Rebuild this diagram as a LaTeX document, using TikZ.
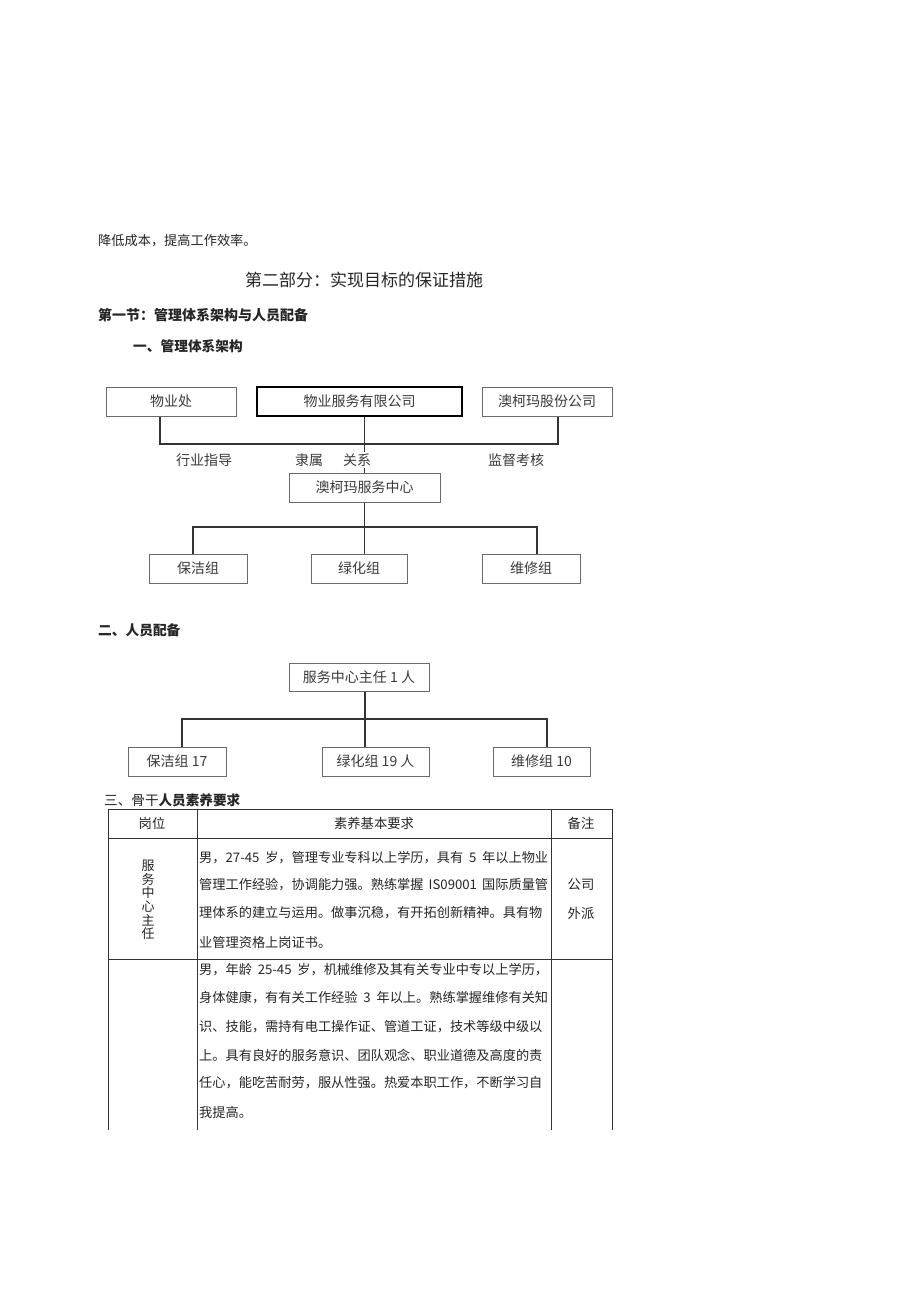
\documentclass[tikz,border=0pt]{standalone}
\usepackage{fontspec}
\setmainfont{Noto Sans CJK SC}
\XeTeXlinebreaklocale "zh"
\XeTeXlinebreakskip=0pt plus 2pt minus 1.5pt
\newcommand\fs[1]{\fontsize{#1}{#1}\selectfont}
\newcommand\rowline[1]{\makebox[349pt][s]{#1}}
\definecolor{boxgray}{HTML}{6A6A6A}
\definecolor{linegray}{HTML}{333333}
\definecolor{txt}{HTML}{262626}
\definecolor{boxtxt}{HTML}{3A3A3A}
\begin{document}
\begin{tikzpicture}[x=1pt,y=-1pt,
  every node/.style={text=txt},
  box/.style={draw=boxgray, line width=1pt, inner sep=0pt, minimum height=29pt, font=\fs{14}, text=boxtxt},
  conn/.style={draw=linegray, line width=1.3pt},
  lbl/.style={inner sep=0pt, font=\fs{14}, text=boxtxt},
  para/.style={inner sep=0pt, anchor=west, font=\fs{13.2}},
  head/.style={inner sep=0pt, anchor=west, font=\fs{14}\bfseries},
  tline/.style={draw=linegray, line width=1pt}]
\useasboundingbox[fill=white] (0,0) rectangle (920,1301);

% heading texts
\node[para] (intro) at (98,241) {降低成本，提高工作效率。};
\node[inner sep=0pt, font=\fs{17}] (title) at (364,280) {第二部分：实现目标的保证措施};
\node[head] (sec1) at (98,315) {第一节：管理体系架构与人员配备};
\node[head, font=\fs{13.7}\bfseries] (sub1) at (133,346) {一、管理体系架构};

% chart 1
\node[box, minimum width=130pt] (wyc) at (171,401.5) {物业处};
\node[box, minimum width=205pt, draw=black, line width=1.5pt] (wyfw) at (359.5,401.5) {物业服务有限公司};
\node[box, minimum width=130pt] (akmgf) at (547,401.5) {澳柯玛股份公司};
\node[box, minimum width=151pt] (fwzx) at (364.5,487.5) {澳柯玛服务中心};
\node[box, minimum width=98pt] (bjz) at (198,568.5) {保洁组};
\node[box, minimum width=96pt] (lhz) at (359,568.5) {绿化组};
\node[box, minimum width=98pt] (wxz) at (531,568.5) {维修组};

\coordinate (bus1) at (364,444);
\draw[conn] ([xshift=-11pt]wyc.south) |- (bus1) -| ([xshift=11pt]akmgf.south);
\draw[conn] (fwzx.north) -- (fwzx.north |- wyfw.south);
\coordinate (bus2) at (364,527);
\draw[conn] (fwzx.south) -- (fwzx.south |- lhz.north);
\draw[conn] ([xshift=-5pt]bjz.north) |- (bus2) -| ([xshift=6pt]wxz.north);

\node[lbl] (l1) at (204,460) {行业指导};
\node[lbl] (l2) at (309,460) {隶属};
\node[lbl, fill=white, inner sep=1.5pt] (l3) at (357,460) {关系};
\node[lbl] (l4) at (516,460) {监督考核};

% chart 2
\node[head, font=\fs{13.7}\bfseries] (sub2) at (98,630) {二、人员配备};
\node[box, minimum width=140pt, minimum height=28pt] (zr) at (359,677) {服务中心主任 1 人};
\node[box, minimum width=98pt] (b17) at (177,761.5) {保洁组 17};
\node[box, minimum width=107pt] (l19) at (375.5,761.5) {绿化组 19 人};
\node[box, minimum width=97pt] (w10) at (541.5,761.5) {维修组 10};
\coordinate (bus3) at (365,719);
\draw[conn] ([xshift=6pt]zr.south) -- ([xshift=-10.5pt]l19.north);
\draw[conn] ([xshift=5pt]b17.north) |- (bus3) -| ([xshift=5.5pt]w10.north);

% table
\node[inner sep=0pt, anchor=west, font=\fs{13.6}] (sub3) at (104,800) {三、骨干\textbf{人员素养要求}};
\draw[tline] (108,1130) -- (108,809) -- (612,809) -- (612,1130);
\draw[tline] (197,809) -- (197,1130);
\draw[tline] (551,809) -- (551,1130);
\draw[tline] (108,838) -- (612,838);
\draw[tline] (108,959) -- (612,959);
\node[inner sep=0pt, font=\fs{13.3}] (h1) at (152,823) {岗位};
\node[inner sep=0pt, font=\fs{13.3}] (h2) at (374,823) {素养基本要求};
\node[inner sep=0pt, font=\fs{13.3}] (h3) at (581,823) {备注};

\node[inner sep=0pt, align=center, font=\fontsize{13}{13.6}\selectfont] (post1) at (148,900) {服\\务\\中\\心\\主\\任};
\node[inner sep=0pt, font=\fs{13.3}] (n1) at (581,885) {公司};
\node[inner sep=0pt, font=\fs{13.3}] (n2) at (581,913) {外派};

\node[para] (r1a) at (199,858) {\rowline{男，27-45 岁，管理专业专科以上学历，具有 5 年以上物业}};
\node[para] (r1b) at (199,885) {\rowline{管理工作经验，协调能力强。熟练掌握 IS09001 国际质量管}};
\node[para] (r1c) at (199,913) {\rowline{理体系的建立与运用。做事沉稳，有开拓创新精神。具有物}};
\node[para] (r1d) at (199,942) {业管理资格上岗证书。};

\node[para] (r2a) at (199,970) {\rowline{男，年龄 25-45 岁，机械维修及其有关专业中专以上学历，}};
\node[para] (r2b) at (199,998) {\rowline{身体健康，有有关工作经验 3 年以上。熟练掌握维修有关知}};
\node[para] (r2c) at (199,1027) {\rowline{识、技能，需持有电工操作证、管道工证，技术等级中级以}};
\node[para] (r2d) at (199,1055) {\rowline{上。具有良好的服务意识、团队观念、职业道德及高度的责}};
\node[para] (r2e) at (199,1083) {\rowline{任心，能吃苦耐劳，服从性强。热爱本职工作，不断学习自}};
\node[para] (r2f) at (199,1112) {我提高。};
\end{tikzpicture}
\end{document}
